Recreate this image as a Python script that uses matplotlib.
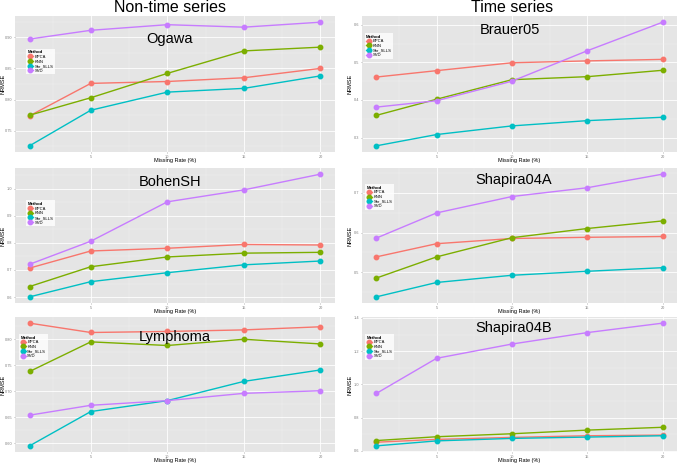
"""NRMSE vs missing rate for six expression datasets."""

from __future__ import annotations

import matplotlib

matplotlib.use("Agg")
import matplotlib.pyplot as plt
from matplotlib.ticker import FormatStrFormatter, MultipleLocator

plt.rcParams["font.family"] = ["Liberation Sans", "DejaVu Sans"]

missing_rate = [1, 5, 10, 15, 20]
methods = ["BPCA", "KNN", "Shr_SLLS", "SVD"]
method_colors = ["#F8766D", "#7CAE00", "#00BFC4", "#C77CFF"]

# NRMSE, one list per method (BPCA, KNN, Shr_SLLS, SVD)
ogawa_bpca = [0.774, 0.826, 0.829, 0.835, 0.850]
ogawa_knn = [0.775, 0.803, 0.842, 0.878, 0.884]
ogawa_shr = [0.726, 0.783, 0.812, 0.818, 0.838]
ogawa_svd = [0.897, 0.911, 0.920, 0.916, 0.924]

brauer_bpca = [0.461, 0.478, 0.499, 0.504, 0.508]
brauer_knn = [0.359, 0.402, 0.454, 0.462, 0.479]
brauer_shr = [0.278, 0.308, 0.331, 0.345, 0.354]
brauer_svd = [0.381, 0.398, 0.450, 0.531, 0.607]

bohen_bpca = [0.707, 0.770, 0.780, 0.794, 0.792]
bohen_knn = [0.639, 0.712, 0.748, 0.762, 0.765]
bohen_shr = [0.601, 0.657, 0.690, 0.719, 0.733]
bohen_svd = [0.721, 0.806, 0.951, 0.995, 1.053]

shap_a_bpca = [0.539, 0.572, 0.585, 0.588, 0.590]
shap_a_knn = [0.486, 0.539, 0.587, 0.610, 0.629]
shap_a_shr = [0.439, 0.475, 0.493, 0.503, 0.512]
shap_a_svd = [0.586, 0.649, 0.690, 0.712, 0.746]

lymph_bpca = [0.831, 0.813, 0.815, 0.818, 0.824]
lymph_knn = [0.738, 0.795, 0.788, 0.800, 0.791]
lymph_shr = [0.595, 0.661, 0.682, 0.719, 0.741]
lymph_svd = [0.654, 0.673, 0.682, 0.696, 0.701]

shap_b_bpca = [0.651, 0.668, 0.680, 0.690, 0.694]
shap_b_knn = [0.661, 0.684, 0.702, 0.724, 0.741]
shap_b_shr = [0.629, 0.659, 0.674, 0.682, 0.690]
shap_b_svd = [0.945, 1.157, 1.243, 1.312, 1.369]

W, H = 685, 465
BG = "#E5E5E5"
TICK_GREY = "#7F7F7F"

# name, series, pixel box (x0, y0, x1, y1), y step, y format, title pos, legend pos
PANELS = [
    ("Ogawa", [ogawa_bpca, ogawa_knn, ogawa_shr, ogawa_svd], (15, 16, 335, 152),
     0.05, "%.2f", (0.484, 0.83), (0.035, 0.76)),
    ("Brauer05", [brauer_bpca, brauer_knn, brauer_shr, brauer_svd], (362, 16, 677, 152),
     0.1, "%.1f", (0.47, 0.90), (0.008, 0.875)),
    ("BohenSH", [bohen_bpca, bohen_knn, bohen_shr, bohen_svd], (15, 168, 335, 303),
     0.1, "%.1f", (0.484, 0.90), (0.035, 0.76)),
    ("Shapira04A", [shap_a_bpca, shap_a_knn, shap_a_shr, shap_a_svd], (362, 168, 677, 303),
     0.1, "%.1f", (0.48, 0.91), (0.01, 0.88)),
    ("Lymphoma", [lymph_bpca, lymph_knn, lymph_shr, lymph_svd], (15, 317, 335, 452),
     0.05, "%.2f", (0.50, 0.85), (0.012, 0.875)),
    ("Shapira04B", [shap_b_bpca, shap_b_knn, shap_b_shr, shap_b_svd], (362, 317, 677, 452),
     0.2, "%.1f", (0.48, 0.92), (0.01, 0.875)),
]


def _draw_panel(fig, name, series, box, ystep, yfmt, title_pos, legend_pos) -> None:
    x0, y0, x1, y1 = box
    ax = fig.add_axes([x0 / W, 1 - y1 / H, (x1 - x0) / W, (y1 - y0) / H])
    ax.set_facecolor(BG)
    for spine in ax.spines.values():
        spine.set_visible(False)

    for values, label, color in zip(series, methods, method_colors):
        ax.plot(missing_rate, values, color=color, linewidth=1.0, marker="o",
                markersize=3.2, label=label)

    ax.margins(x=0.05, y=0.05)
    ax.xaxis.set_major_locator(MultipleLocator(5))
    ax.xaxis.set_minor_locator(MultipleLocator(2.5))
    ax.yaxis.set_major_locator(MultipleLocator(ystep))
    ax.yaxis.set_minor_locator(MultipleLocator(ystep / 2))
    ax.yaxis.set_major_formatter(FormatStrFormatter(yfmt))
    ax.set_xlim(0.05, 20.95)

    ax.grid(which="major", color="white", linewidth=0.6)
    ax.grid(which="minor", color="#F2F2F2", linewidth=0.3)
    ax.set_axisbelow(True)
    ax.tick_params(which="major", labelsize=2.8, colors=TICK_GREY, length=1.0, width=0.4, pad=1.0)
    ax.tick_params(which="minor", length=0)

    ax.set_xlabel("Missing Rate (%)", fontsize=4)
    ax.set_ylabel("NRMSE", fontsize=4)
    ax.xaxis.set_label_coords(0.5, -0.045)
    ax.yaxis.set_label_coords(-0.03, 0.5)

    ax.text(title_pos[0], title_pos[1], name, transform=ax.transAxes, fontsize=10.5,
            ha="center", va="center")

    leg = ax.legend(loc="upper left", bbox_to_anchor=legend_pos, fontsize=3,
                    title="Method", title_fontsize=3.2, frameon=True, fancybox=False,
                    borderpad=0.4, labelspacing=0.15, handlelength=1.2, handletextpad=0.4,
                    borderaxespad=0)
    leg.get_title().set_fontweight("bold")
    leg._legend_box.align = "left"
    leg.get_frame().set_edgecolor("white")
    leg.get_frame().set_linewidth(0)


def main() -> None:
    fig = plt.figure(figsize=(W / 100, H / 100), dpi=100)
    for panel in PANELS:
        _draw_panel(fig, *panel)

    fig.text(170 / W, 1 - 8 / H, "Non-time series", fontsize=11.5, ha="center", va="center")
    fig.text(512 / W, 1 - 8 / H, "Time series", fontsize=11.5, ha="center", va="center")

    fig.savefig("out.png", dpi=100)
    plt.close(fig)


if __name__ == "__main__":
    main()
